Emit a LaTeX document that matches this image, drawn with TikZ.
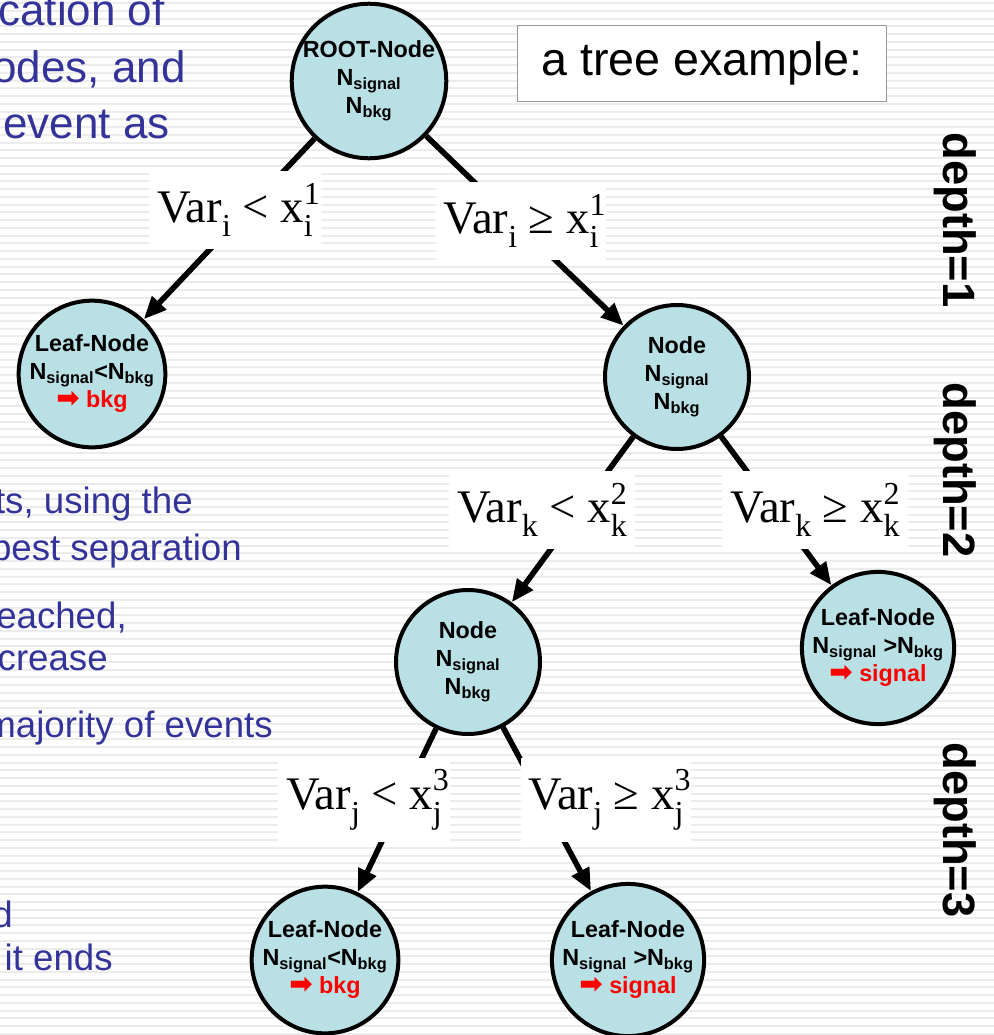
\documentclass[tikz,border=0pt]{standalone}
\usepackage{fontspec}
\setmainfont{Liberation Sans}
\newfontfamily\serifvar{Liberation Serif}
\newfontfamily\dingfont{DejaVu Sans}
\usetikzlibrary{arrows.meta}

\definecolor{nodefill}{RGB}{185,224,228}
\definecolor{slideblue}{RGB}{51,51,153}
\definecolor{stripe}{RGB}{236,236,236}
\definecolor{boxline}{RGB}{150,150,150}

\tikzset{
  treenode/.style={circle, draw=black, line width=3pt, fill=nodefill, minimum size=108pt,
    inner sep=0pt, align=center, font=\fontsize{17.5}{21}\selectfont\bfseries},
  cutbox/.style={fill=white, inner xsep=6pt, inner ysep=9pt, font=\serifvar\fontsize{35}{40}\selectfont},
  branch/.style={line width=4.2pt, -{Triangle[length=17pt,width=14pt]}},
  slidetext/.style={text=slideblue, anchor=base east, inner sep=0pt},
  depthlabel/.style={rotate=-90, font=\fontsize{34}{40}\selectfont\bfseries},
}

\newcommand{\Nsig}{N\textsubscript{signal}}
\newcommand{\Nbkg}{N\textsubscript{bkg}}
\newcommand{\decide}[1]{\textcolor{red}{{\dingfont\bfseries\fontsize{21}{21}\selectfont ➡} #1}}
% sub- and superscripts of the cuts
\newcommand{\lowix}[1]{\raisebox{-0.3em}{\fontsize{24}{24}\selectfont #1}}
\newcommand{\highix}[1]{\raisebox{0.4em}{\fontsize{24}{24}\selectfont #1}}
\newcommand{\cutlt}[2]{Var\lowix{#1} < x\rlap{\highix{#2}}\lowix{#1}}
\newcommand{\cutge}[2]{Var\lowix{#1} ≥ x\rlap{\highix{#2}}\lowix{#1}}

\begin{document}
\begin{tikzpicture}[x=0.75pt,y=0.75pt,yscale=-1]
\useasboundingbox (0,0) rectangle (994,1035);
\clip (0,0) rectangle (994,1035);
% slide background
\foreach \y in {3,10.75,...,1035}
  \draw[stripe, line width=1.5pt] (0,\y) -- (994,\y);

% slide text, cut at the left border
\begin{scope}[every node/.append style={font=\fontsize{33}{40}\selectfont}]
\node[slidetext] (t1) at (165,26) {cation of};
\node[slidetext] (t2) at (186,82) {odes, and};
\node[slidetext] (t3) at (170,138) {event as};
\end{scope}
\begin{scope}[every node/.append style={font=\fontsize{27.5}{33}\selectfont}]
\node[slidetext] (t4) at (193,513) {ts, using the};
\node[slidetext] (t5) at (242,560) {best separation};
\node[slidetext] (t6) at (127,628) {eached,};
\node[slidetext] (t7) at (108,670) {crease};
\node[slidetext] (t8) at (273,737) {majority of events};
\node[slidetext] (t9) at (13,927) {d};
\node[slidetext] (t10) at (113,970) {it ends};
\end{scope}

% the tree
\node[treenode, minimum size=112pt] (root) at (369,81) {ROOT-Node\\\Nsig\\\Nbkg};
\node[treenode] (leafL) at (92,374) {Leaf-Node\\\Nsig<\Nbkg\\\decide{bkg}};
\node[treenode] (nodeR) at (677,377) {Node\\\Nsig\\\Nbkg};
\node[treenode] (leafR) at (878,648) {Leaf-Node\\\Nsig{} >\Nbkg\\\decide{signal}};
\node[treenode] (nodeC) at (468,662) {Node\\\Nsig\\\Nbkg};
\node[treenode] (leafBL) at (325,960) {Leaf-Node\\\Nsig<\Nbkg\\\decide{bkg}};
\node[treenode] (leafBR) at (628,960) {Leaf-Node\\\Nsig{} >\Nbkg\\\decide{signal}};

\draw[branch] (root) -- (leafL);
\draw[branch] (root) -- (nodeR);
\draw[branch] (nodeR) -- (nodeC);
\draw[branch] (nodeR) -- (leafR);
\draw[branch] (nodeC) -- (leafBL);
\draw[branch] (nodeC) -- (leafBR);

% cuts
\node[cutbox] (c1) at (235,210) {\cutlt{i}{1}};
\node[cutbox] (c2) at (521,221) {\cutge{i}{1}};
\node[cutbox] (c3) at (542,510) {\cutlt{k}{2}};
\node[cutbox] (c4) at (815,510) {\cutge{k}{2}};
\node[cutbox] (c5) at (364,800) {\cutlt{j}{3}};
\node[cutbox] (c6) at (606,800) {\cutge{j}{3}};

\node[draw=boxline, line width=0.75pt, fill=white, minimum width=277pt, minimum height=57pt,
  font=\fontsize{35}{40}\selectfont] (title) at (702,63) {a tree example:};

\node[depthlabel] (d1) at (955,220) {depth=1};
\node[depthlabel] (d2) at (955,470) {depth=2};
\node[depthlabel] (d3) at (955,830) {depth=3};
\end{tikzpicture}
\end{document}
